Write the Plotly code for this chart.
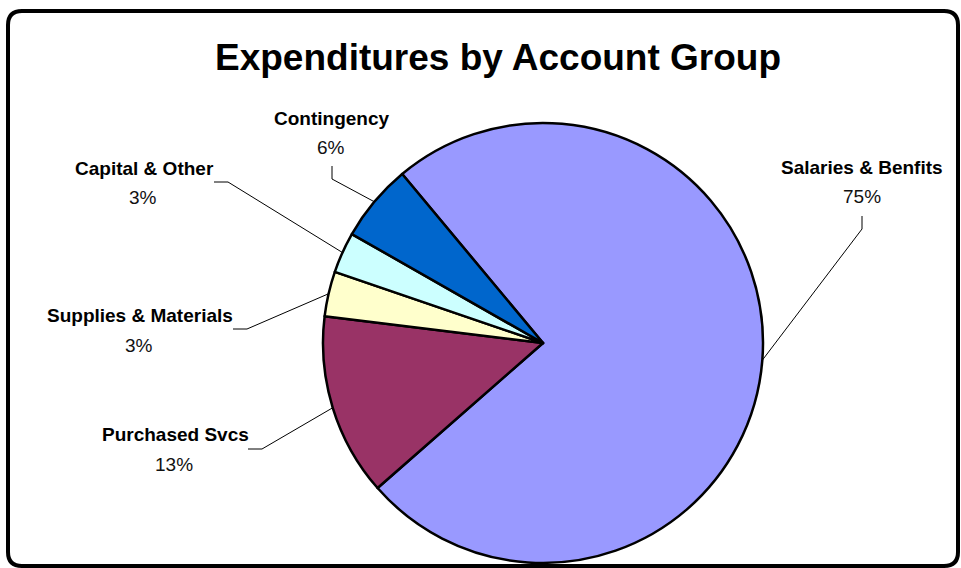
import math
import plotly.graph_objects as go

# Expenditure shares by account group (percent of total), clockwise from the top-left
groups = ["Salaries & Benfits", "Purchased Svcs", "Supplies & Materials",
          "Capital & Other", "Contingency"]
shares = [74.6, 13.4, 3.3, 3.0, 5.7]
colors = ["#9999FF", "#993366", "#FFFFCC", "#CCFFFF", "#0066CC"]

W, H = 961, 568
CX, CY, R = 543, 343, 220          # pie centre / radius in pixels
START = -39.8                      # angle of first slice edge (deg, clockwise from 12 o'clock)

# label placement: name centre, percent centre, leader start, leader elbow (pixels)
label_layout = [
    dict(name=(862, 167), pct=(862, 196), p0=(862, 216), p1=(862, 229)),
    dict(name=(175, 434), pct=(174, 464), p0=(248, 449), p1=(262, 449)),
    dict(name=(140, 315), pct=(139, 345), p0=(233, 329), p1=(247, 329)),
    dict(name=(144, 168), pct=(143, 197), p0=(214, 182), p1=(228, 182)),
    dict(name=(331, 118), pct=(331, 147), p0=(332, 166), p1=(332, 179)),
]

FONT = "Liberation Sans Narrow, Arial Narrow, Liberation Sans, Arial, sans-serif"


def px(x):
    return x / W


def py(y):
    return 1 - y / H


fig = go.Figure(go.Pie(
    labels=groups,
    values=shares,
    sort=False,
    direction="clockwise",
    rotation=START,
    marker=dict(colors=colors, line=dict(color="black", width=2.5)),
    textinfo="none",
    hoverinfo="label+percent",
    showlegend=False,
    domain=dict(x=[px(CX - R), px(CX + R)], y=[py(CY + R), py(CY - R)]),
))

total = sum(shares)
annotations = []
shapes = []
cum = 0.0
for name, val, lay in zip(groups, shares, label_layout):
    mid = START + (cum + val / 2) / total * 360.0
    cum += val
    ex = CX + R * math.sin(math.radians(mid))
    ey = CY - R * math.cos(math.radians(mid))
    pct = round(val / total * 100)

    annotations.append(dict(
        x=px(lay["name"][0]), y=py(lay["name"][1]), xref="paper", yref="paper",
        text=f"<b>{name}</b>", showarrow=False, xanchor="center", yanchor="middle",
        font=dict(family=FONT, size=19, color="black")))
    annotations.append(dict(
        x=px(lay["pct"][0]), y=py(lay["pct"][1]), xref="paper", yref="paper",
        text=f"{pct}%", showarrow=False, xanchor="center", yanchor="middle",
        font=dict(family=FONT, size=19, color="#111111")))

    (x0, y0), (x1, y1) = lay["p0"], lay["p1"]
    shapes.append(dict(
        type="path", xref="paper", yref="paper",
        path=f"M {px(x0)} {py(y0)} L {px(x1)} {py(y1)} L {px(ex)} {py(ey)}",
        line=dict(color="black", width=1)))

# title
annotations.append(dict(
    x=px(498), y=py(57), xref="paper", yref="paper",
    text="<b>Expenditures by Account Group</b>", showarrow=False,
    xanchor="center", yanchor="middle",
    font=dict(family=FONT, size=37, color="black")))

# rounded chart-area frame
L, T, Rt, B, rc = 8, 11, 958, 566, 14
frame = (f"M {px(L + rc)} {py(T)} L {px(Rt - rc)} {py(T)} "
         f"Q {px(Rt)} {py(T)} {px(Rt)} {py(T + rc)} "
         f"L {px(Rt)} {py(B - rc)} Q {px(Rt)} {py(B)} {px(Rt - rc)} {py(B)} "
         f"L {px(L + rc)} {py(B)} Q {px(L)} {py(B)} {px(L)} {py(B - rc)} "
         f"L {px(L)} {py(T + rc)} Q {px(L)} {py(T)} {px(L + rc)} {py(T)} Z")
shapes.append(dict(type="path", xref="paper", yref="paper", path=frame,
                   line=dict(color="black", width=4), layer="above"))

fig.update_layout(
    width=W, height=H,
    margin=dict(l=0, r=0, t=0, b=0),
    paper_bgcolor="white", plot_bgcolor="white",
    annotations=annotations, shapes=shapes,
)

fig.write_html("out.html", config={"displayModeBar": False})
